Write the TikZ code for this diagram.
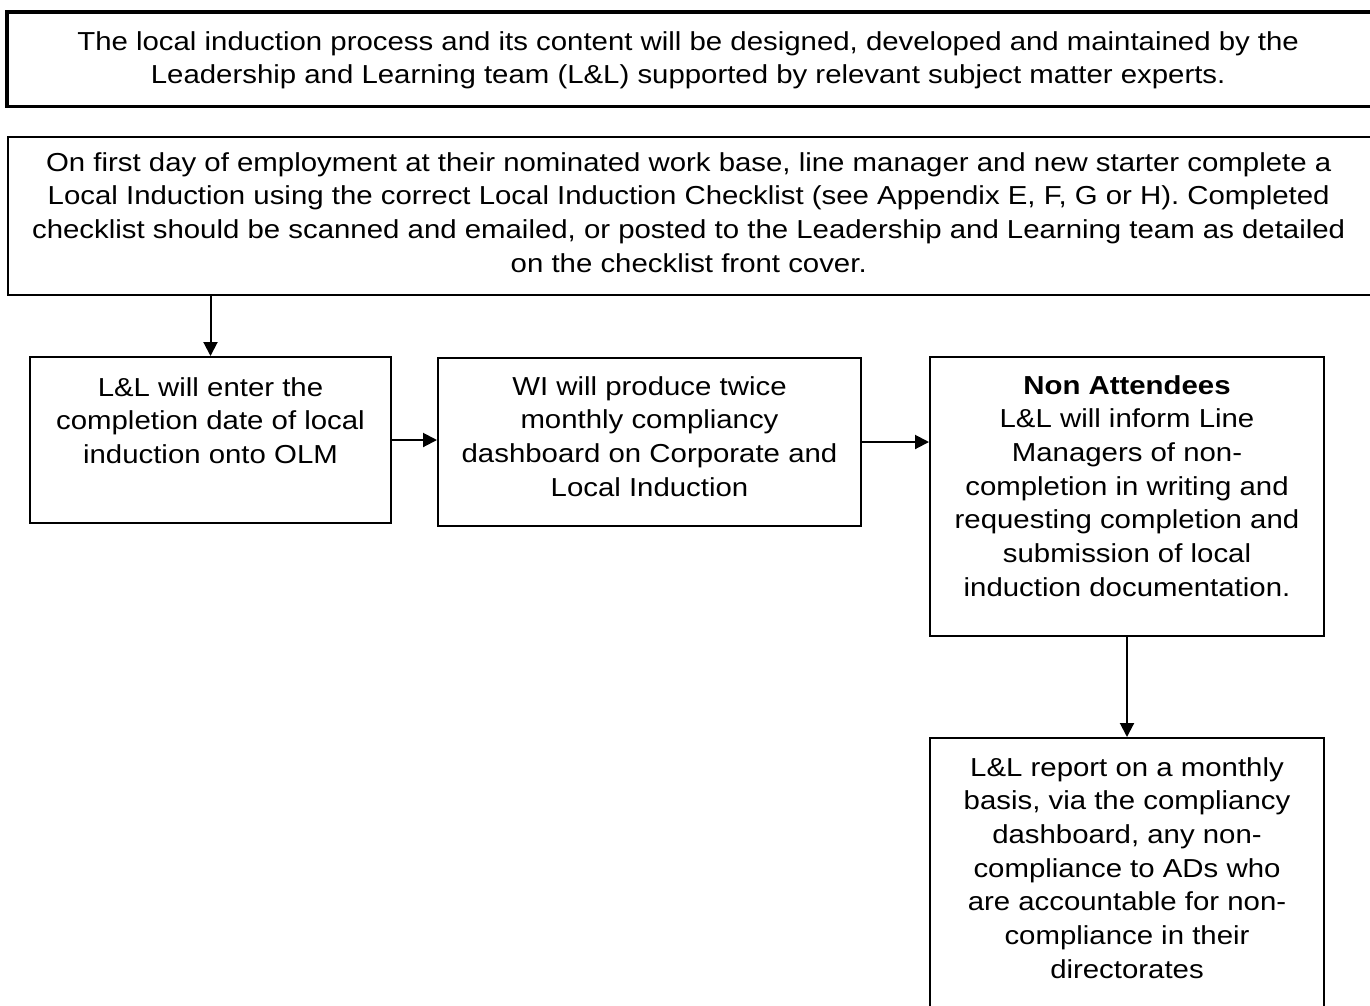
\documentclass[tikz,border=0pt]{standalone}
\usepackage{fontspec}
\setmainfont{Liberation Sans}[FakeStretch=1.13]
\usetikzlibrary{arrows.meta}
\newcommand\boxtxt[4]{\parbox[t][#2][t]{#1}{\centering\rule{0pt}{#3}#4\par}}
\begin{document}
\begin{tikzpicture}[x=1pt,y=-1pt,
  every node/.style={font=\fontsize{26}{33.7}\selectfont},
  box/.style={draw, line width=2pt, inner sep=0pt, anchor=north west},
  openbox/.style={inner sep=0pt, anchor=north west},
  arrow/.style={line width=2pt, -{Triangle[length=14pt,width=14pt]}}]
\clip (0,0) rectangle (1370,1005);
\fill[white] (0,0) rectangle (1370,1005);
\node[openbox] (intro) at (7,12) {\boxtxt{1362pt}{94pt}{38pt}{The local induction process and its content will be designed, developed and maintained by the\\ Leadership and Learning team (L\&L) supported by relevant subject matter experts.}};
\draw[line width=3.5pt] ([xshift=20pt]intro.north east) -- (intro.north west) -- (intro.south west) -- ([xshift=20pt]intro.south east);
\node[openbox] (first) at (8,137) {\boxtxt{1361pt}{158pt}{34pt}{On first day of employment at their nominated work base, line manager and new starter complete a\\ Local Induction using the correct Local Induction Checklist (see Appendix E, F, G or H). Completed\\ checklist should be scanned and emailed, or posted to the Leadership and Learning team as detailed\\ on the checklist front cover.}};
\draw[line width=2pt] ([xshift=20pt]first.north east) -- (first.north west) -- (first.south west) -- ([xshift=20pt]first.south east);
\node[box] (enter) at (29,356) {\boxtxt{361pt}{166pt}{39pt}{L\&L will enter the\\ completion date of local\\ induction onto OLM}};
\node[box] (wi) at (437,357) {\boxtxt{423pt}{168pt}{37pt}{WI will produce twice\\ monthly compliancy\\ dashboard on Corporate and\\ Local Induction}};
\node[box] (nonatt) at (929,356) {\boxtxt{394pt}{279pt}{37pt}{\textbf{Non Attendees}\\ L\&L will inform Line\\ Managers of non-\\ completion in writing and\\ requesting completion and\\ submission of local\\ induction documentation.}};
\node[box] (report) at (929,737) {\boxtxt{394pt}{300pt}{38pt}{L\&L report on a monthly\\ basis, via the compliancy\\ dashboard, any non-\\ compliance to ADs who\\ are accountable for non-\\ compliance in their\\ directorates}};
\draw[arrow] (first.south -| enter.north) -- (enter.north);
\draw[arrow] (enter.east) -- (enter.east -| wi.west);
\draw[arrow] (wi.east) -- (wi.east -| nonatt.west);
\draw[arrow] (nonatt.south) -- (report.north);
\end{tikzpicture}
\end{document}
